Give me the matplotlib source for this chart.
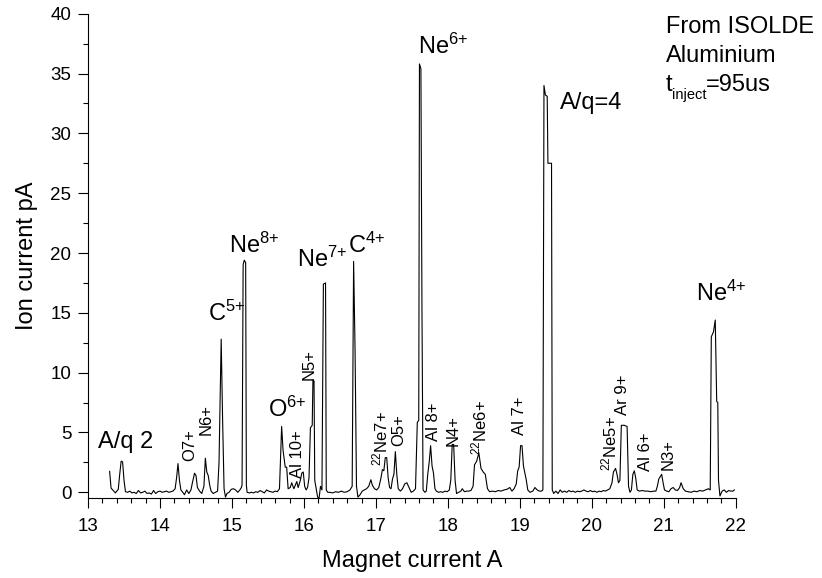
import matplotlib
matplotlib.use("Agg")
import matplotlib.pyplot as plt
from matplotlib.ticker import MultipleLocator

plt.rcParams['font.family'] = ['Liberation Sans', 'DejaVu Sans']
plt.rcParams['mathtext.fontset'] = 'custom'
plt.rcParams['mathtext.rm'] = 'Liberation Sans'
plt.rcParams['mathtext.it'] = 'Liberation Sans'
plt.rcParams['mathtext.bf'] = 'Liberation Sans:bold'

# Spectrum: magnet current (A) vs ion current (pA)
magnet_current = [
    13.30, 13.32, 13.35, 13.38, 13.42, 13.44, 13.46, 13.48, 13.50, 13.52,
    13.55, 13.58, 13.61, 13.64, 13.67, 13.70, 13.73, 13.76, 13.79, 13.82,
    13.85, 13.88, 13.91, 13.94, 13.97, 14.00, 14.03, 14.06, 14.09, 14.12,
    14.15, 14.18, 14.21, 14.23, 14.25, 14.27, 14.29, 14.31, 14.34, 14.37,
    14.40, 14.43, 14.45, 14.48, 14.50, 14.52, 14.55, 14.58, 14.61, 14.63,
    14.65, 14.67, 14.69, 14.71, 14.74, 14.77, 14.80, 14.82, 14.85, 14.87,
    14.89, 14.91, 14.93, 14.96, 14.99, 15.02, 15.05, 15.08, 15.11, 15.13,
    15.14, 15.155, 15.17, 15.19, 15.20, 15.21, 15.24, 15.27, 15.30, 15.33,
    15.36, 15.39, 15.42, 15.45, 15.48, 15.51, 15.54, 15.57, 15.60, 15.63,
    15.66, 15.69, 15.71, 15.74, 15.76, 15.78, 15.81, 15.83, 15.86, 15.88,
    15.90, 15.92, 15.95, 15.97, 15.99, 16.01, 16.03, 16.05, 16.07, 16.09,
    16.115, 16.125, 16.14, 16.15, 16.17, 16.19, 16.21, 16.23, 16.25, 16.27,
    16.30, 16.31, 16.33, 16.36, 16.40, 16.44, 16.48, 16.52, 16.56, 16.60,
    16.64, 16.67, 16.69, 16.71, 16.73, 16.75, 16.78, 16.81, 16.84, 16.87,
    16.90, 16.93, 16.95, 16.98, 17.01, 17.04, 17.07, 17.09, 17.11, 17.13,
    17.15, 17.17, 17.19, 17.21, 17.23, 17.25, 17.27, 17.29, 17.31, 17.34,
    17.37, 17.40, 17.43, 17.46, 17.49, 17.52, 17.55, 17.575, 17.595, 17.605,
    17.625, 17.64, 17.655, 17.68, 17.70, 17.72, 17.74, 17.76, 17.78, 17.80,
    17.82, 17.84, 17.87, 17.90, 17.93, 17.96, 17.99, 18.02, 18.04, 18.06,
    18.08, 18.10, 18.12, 18.15, 18.18, 18.20, 18.23, 18.26, 18.29, 18.32,
    18.35, 18.37, 18.40, 18.43, 18.46, 18.49, 18.52, 18.55, 18.58, 18.62,
    18.66, 18.70, 18.74, 18.78, 18.82, 18.86, 18.89, 18.92, 18.95, 18.97,
    18.99, 19.01, 19.03, 19.05, 19.07, 19.09, 19.11, 19.14, 19.18, 19.21,
    19.24, 19.27, 19.30, 19.32, 19.335, 19.355, 19.38, 19.39, 19.44, 19.45,
    19.47, 19.50, 19.53, 19.56, 19.59, 19.62, 19.65, 19.68, 19.71, 19.74,
    19.77, 19.80, 19.83, 19.86, 19.89, 19.92, 19.95, 19.98, 20.01, 20.04,
    20.07, 20.10, 20.13, 20.16, 20.19, 20.22, 20.25, 20.28, 20.30, 20.33,
    20.35, 20.37, 20.39, 20.41, 20.45, 20.49, 20.51, 20.53, 20.55, 20.57,
    20.59, 20.61, 20.63, 20.66, 20.70, 20.74, 20.78, 20.82, 20.86, 20.89,
    20.91, 20.93, 20.95, 20.97, 20.99, 21.01, 21.04, 21.07, 21.10, 21.13,
    21.16, 21.19, 21.22, 21.24, 21.27, 21.30, 21.34, 21.38, 21.42, 21.46,
    21.50, 21.54, 21.58, 21.62, 21.645, 21.66, 21.69, 21.715, 21.735, 21.75,
    21.76, 21.78, 21.81, 21.84, 21.87, 21.90, 21.93, 21.96, 21.98,
]
ion_current = [
    1.75, 0.35, 0.15, -0.05, 0.25, 1.5, 2.6, 2.55, 1.0, 0.05,
    0.0, 0.1, -0.05, 0.0, -0.1, 0.15, -0.05, 0.0, 0.1, -0.1,
    -0.05, -0.15, 0.15, -0.1, 0.05, 0.1, 0.0, 0.05, 0.1, 0.0,
    0.05, 0.1, 0.3, 1.2, 2.4, 1.0, 0.2, 0.05, -0.2, 0.2,
    -0.1, 0.2, 0.8, 1.6, 1.4, 0.4, 0.1, -0.1, 0.5, 2.85,
    1.7, 1.4, 0.6, 0.1, -0.1, 0.0, 0.1, 2.5, 12.8, 6.0,
    0.3, -0.4, -0.1, 0.0, 0.25, 0.3, 0.2, 0.0, 0.2, 0.4,
    0.6, 19.0, 19.4, 19.2, 0.6, 0.0, -0.05, 0.0, -0.05, 0.05,
    0.0, 0.15, 0.05, -0.05, 0.2, 0.1, 0.05, 0.0, 0.1, 0.05,
    0.3, 5.5, 3.5, 2.1, 2.1, 0.3, 0.4, 0.8, 0.3, 0.6,
    0.9, 0.4, 1.0, 1.6, 1.7, 0.5, 0.2, 0.4, 1.2, 5.4,
    5.6, 9.4, 9.3, 1.0, 0.3, -0.4, -0.5, 0.5, 0.2, 17.4,
    17.5, 0.2, 0.0, 0.0, -0.05, 0.05, 0.0, 0.1, 0.0, 0.05,
    0.2, 0.5, 19.3, 12.0, 0.5, -0.4, -0.2, 0.1, 0.2, 0.3,
    0.5, 1.05, 0.6, 0.3, 0.2, 0.4, 1.2, 1.9, 1.8, 2.9,
    2.9, 1.2, 0.4, 0.3, 1.1, 1.5, 3.4, 1.5, 0.3, 0.1,
    0.3, 0.7, 0.8, 0.4, 0.0, 0.1, 0.3, 5.85, 6.0, 35.8,
    35.4, 15.0, 0.2, 0.0, 0.1, 1.5, 2.5, 3.9, 2.2, 1.6,
    0.3, 0.1, 0.0, 0.05, 0.0, 0.1, 0.05, 0.2, 1.0, 4.0,
    4.0, 1.0, -0.1, 0.0, 0.1, 0.3, 0.05, 0.1, 0.1, 0.15,
    0.5, 2.3, 2.6, 3.3, 2.0, 1.7, 1.5, 0.3, 0.05, 0.1,
    0.05, 0.15, 0.1, 0.2, 0.25, 0.4, 0.1, 0.3, 0.7, 1.8,
    2.1, 3.9, 3.9, 2.2, 1.6, 1.0, 0.2, 0.0, 0.1, 0.4,
    0.2, 0.1, 0.1, 0.2, 34.0, 33.2, 33.1, 27.5, 27.5, 0.2,
    -0.1, 0.1, -0.1, 0.2, 0.0, 0.1, 0.0, 0.15, 0.05, 0.1,
    0.0, 0.1, 0.05, 0.1, 0.2, 0.1, 0.05, 0.15, 0.05, 0.1,
    0.0, 0.1, 0.05, 0.15, 0.1, 0.2, 0.3, 0.8, 1.7, 2.0,
    1.5, 0.8, 1.0, 5.6, 5.6, 5.5, 0.5, 0.0, 0.2, 1.5,
    1.8, 1.2, 0.2, 0.1, 0.15, 0.1, 0.1, 0.05, 0.1, 0.1,
    0.5, 1.1, 1.3, 1.5, 0.8, 0.2, 0.1, 0.05, 0.3, 0.4,
    0.2, 0.15, 0.4, 0.8, 0.3, 0.1, 0.05, 0.0, 0.1, 0.05,
    0.15, 0.1, 0.2, 0.3, 0.2, 13.0, 13.4, 14.4, 7.6, 7.5,
    1.0, -0.3, 0.1, 0.2, 0.0, 0.15, 0.1, 0.1, 0.2,
]

# Large peak labels (text, x, y)
big_labels = [
    ("A/q 2", 13.14, 3.7),
    (r"C$^{\mathrm{5{+}}}$", 14.67, 14.3),
    (r"Ne$^{\mathrm{8{+}}}$", 14.96, 20.0),
    (r"O$^{\mathrm{6{+}}}$", 15.50, 6.27),
    (r"Ne$^{\mathrm{7{+}}}$", 15.91, 18.83),
    (r"C$^{\mathrm{4{+}}}$", 16.615, 20.0),
    (r"Ne$^{\mathrm{6{+}}}$", 17.59, 36.65),
    ("A/q=4", 19.56, 32.0),
    (r"Ne$^{\mathrm{4{+}}}$", 21.45, 15.96),
]
# Small rotated labels (text, x centre, y bottom)
small_labels = [
    ("O7+", 14.42, 2.6),
    ("N6+", 14.64, 4.8),
    ("Al 10+", 15.91, 1.2),
    ("N5+", 16.07, 9.4),
    (r"$^{\mathrm{22}}$Ne7+", 17.06, 2.2),
    ("O5+", 17.32, 3.85),
    ("Al 8+", 17.80, 4.26),
    ("N4+", 18.07, 3.85),
    (r"$^{\mathrm{22}}$Ne6+", 18.44, 3.15),
    ("Al 7+", 19.00, 4.8),
    (r"$^{\mathrm{22}}$Ne5+", 20.25, 1.75),
    ("Ar 9+", 20.43, 6.5),
    ("Al 6+", 20.74, 1.75),
    ("N3+", 21.06, 1.9),
]
info_lines = ["From ISOLDE", "Aluminium"]
inject_parts = ["t", "inject", "=95us"]

fig = plt.figure(figsize=(8.22, 5.78), dpi=100)
ax = fig.add_axes([0.1071, 0.1379, 0.788, 0.8384])
ax.plot(magnet_current, ion_current, color='black', lw=0.8)

ax.set_xlim(13, 22)
ax.set_ylim(-0.5, 40)
ax.xaxis.set_major_locator(MultipleLocator(1))
ax.xaxis.set_minor_locator(MultipleLocator(0.2))
ax.yaxis.set_major_locator(MultipleLocator(5))
ax.yaxis.set_minor_locator(MultipleLocator(2.5))
ax.tick_params(which='major', direction='out', length=7, width=0.8, labelsize=13.5, pad=5)
ax.tick_params(which='minor', direction='out', length=3.8, width=0.8)
ax.tick_params(axis='x', which='major', pad=7)
for s in ['top', 'right']:
    ax.spines[s].set_visible(False)
for s in ['left', 'bottom']:
    ax.spines[s].set_linewidth(0.8)

ax.set_xlabel("Magnet current A", fontsize=17, labelpad=11)
ax.set_ylabel("Ion current pA", fontsize=17, labelpad=9)

for txt, x, y in big_labels:
    ax.text(x, y, txt, fontsize=17, ha='left', va='baseline')
for txt, x, y in small_labels:
    ax.text(x, y, txt, fontsize=12, rotation=90, ha='center', va='bottom')

for i, line in enumerate(info_lines):
    ax.text(21.03, 38.4 - 2.45 * i, line, fontsize=17, ha='left', va='baseline')
ax.text(21.03, 33.5, inject_parts[0], fontsize=17, ha='left', va='baseline')
ax.text(21.12, 32.85, inject_parts[1], fontsize=10.5, ha='left', va='baseline')
ax.text(21.585, 33.5, inject_parts[2], fontsize=17, ha='left', va='baseline')

fig.savefig("out.png", dpi=100)
